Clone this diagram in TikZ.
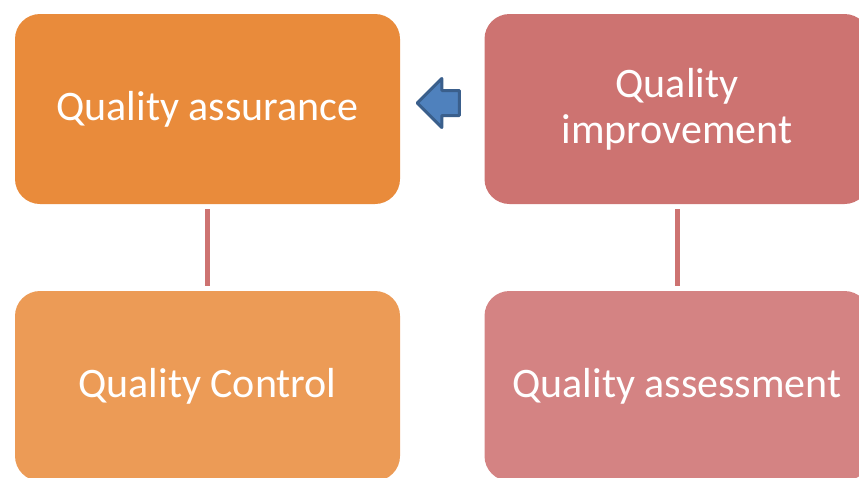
\documentclass[tikz,border=0pt]{standalone}
\usepackage{fontspec}
\setmainfont{Carlito}
\usetikzlibrary{shapes.arrows}
\definecolor{assurancefill}{HTML}{E98B3B}
\definecolor{controlfill}{HTML}{EC9B56}
\definecolor{improvefill}{HTML}{CD7371}
\definecolor{assessfill}{HTML}{D48383}
\definecolor{linkcolor}{HTML}{CD7371}
\definecolor{arrowfill}{HTML}{4F81BD}
\definecolor{arrowdraw}{HTML}{3A5F8C}
\tikzset{box/.style={rectangle, rounded corners=25pt, minimum width=385pt, minimum height=190pt, text=white, align=center, font=\fontsize{42}{46}\selectfont}}
\tikzset{link/.style={draw=linkcolor, line width=5pt, shorten >=5pt, shorten <=5pt}}

\begin{document}
\begin{tikzpicture}[x=1pt, y=-1pt]
		\useasboundingbox (0, 0) rectangle (859, 477);
		\clip (0, 0) rectangle (859, 477);
		\begin{scope}[every node/.append style={box}]
			\node[fill=assurancefill] (qa) at (207.5, 109) {Quality assurance};
			\node[fill=improvefill] (qi) at (677, 109) {Quality\\improvement};
			\node[fill=controlfill] (qc) at (207.5, 386) {Quality Control};
			\node[fill=assessfill] (qs) at (677, 386) {Quality assessment};
		\end{scope}

		\node[single arrow, shape border rotate=180, fill=arrowfill, draw=arrowdraw, line width=3pt, minimum height=42pt, single arrow head extend=12pt, inner sep=11pt, text width=0pt, line join=round] (arr) at (444.5, 103) {};

		\draw[link] (qa) -- (qc);
		\draw[link] (qi) -- (qs);
	\end{tikzpicture}
\end{document}
